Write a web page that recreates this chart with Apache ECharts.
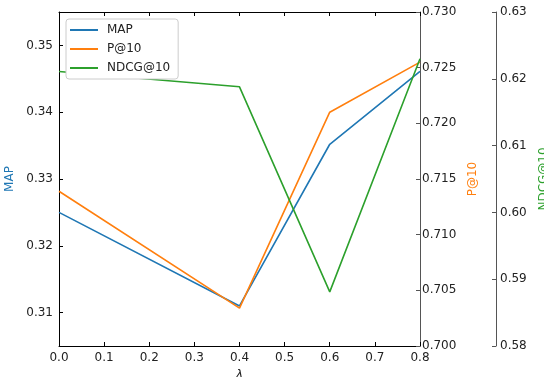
<!DOCTYPE html>
<html><head><meta charset="utf-8">
<script src="https://cdn.jsdelivr.net/npm/echarts@6/dist/echarts.min.js"></script>
<style>html,body{margin:0;padding:0;background:#fff}#c{width:544px;height:377px}</style>
</head><body><div id="c"></div>
<script>
const lambdas = [0.0, 0.4, 0.6, 0.8];
const mapValues = [0.325, 0.311, 0.3352, 0.3461];
const p10Values = [0.7139, 0.7034, 0.7210, 0.7255];
const ndcgValues = [0.6211, 0.6188, 0.5881, 0.6230];
const mapTicks = [0.31, 0.32, 0.33, 0.34, 0.35];
const seriesNames = ['MAP', 'P@10', 'NDCG@10'];
const colors = ['#1f77b4', '#ff7f0e', '#2ca02c'];

const font = 'DejaVu Sans';
const lblStyle = {color: '#222', fontFamily: font, fontSize: 12};
const pairs = v => lambdas.map((x, i) => [x, v[i]]);

const chart = echarts.init(document.getElementById('c'), null, {renderer: 'canvas'});
chart.setOption({
  animation: false,
  color: colors,
  grid: {left: 59, right: 124, top: 12, bottom: 31, containLabel: false, outerBoundsMode: 'none'},
  legend: {
    left: 66, top: 19, orient: 'vertical', itemGap: 7, itemWidth: 28, itemHeight: 12,
    padding: [5, 8, 5, 4], borderColor: '#ccc', borderWidth: 1, borderRadius: 3,
    backgroundColor: '#fff',
    icon: 'path://M0,5 L28,5 L28,7 L0,7 Z',
    textStyle: {fontFamily: font, fontSize: 12, color: '#222', padding: [0, 0, 0, 4]},
    data: seriesNames
  },
  xAxis: [{
    type: 'value', min: 0, max: 0.8, interval: 0.1, position: 'bottom',
    name: 'λ', nameLocation: 'middle', nameGap: 21,
    nameTextStyle: {fontFamily: font, fontSize: 12, fontStyle: 'italic', color: '#222'},
    axisLine: {onZero: false, lineStyle: {color: '#000', width: 1}},
    axisTick: {inside: true, length: 4, lineStyle: {color: '#000'}},
    axisLabel: Object.assign({formatter: v => v.toFixed(1), margin: 6}, lblStyle),
    splitLine: {show: false}
  }, {
    type: 'value', min: 0, max: 0.8, interval: 0.1, position: 'top',
    axisLine: {show: true, onZero: false, lineStyle: {color: '#000', width: 1}},
    axisTick: {inside: true, length: 4, lineStyle: {color: '#000'}},
    axisLabel: {show: false}, splitLine: {show: false}
  }],
  yAxis: [{
    type: 'value', min: 0.305, max: 0.355, position: 'left',
    name: 'MAP', nameLocation: 'middle', nameGap: 36, nameRotate: 90,
    nameTextStyle: {fontFamily: font, fontSize: 12, color: colors[0]},
    axisLine: {show: true, onZero: false, lineStyle: {color: '#000', width: 1}},
    axisTick: {show: true, inside: true, length: 4, customValues: mapTicks, lineStyle: {color: '#000'}},
    axisLabel: Object.assign({customValues: mapTicks, formatter: v => v.toFixed(2), margin: 6}, lblStyle),
    splitLine: {show: false}
  }, {
    type: 'value', min: 0.700, max: 0.730, interval: 0.005, position: 'right', offset: 0,
    name: 'P@10', nameLocation: 'middle', nameGap: 47, nameRotate: 90,
    nameTextStyle: {fontFamily: font, fontSize: 12, color: colors[1]},
    axisLine: {show: true, onZero: false, lineStyle: {color: '#555', width: 1}},
    axisTick: {show: true, inside: true, length: 4, lineStyle: {color: '#555'}},
    axisLabel: Object.assign({formatter: v => v.toFixed(3), margin: 2}, lblStyle),
    splitLine: {show: false}
  }, {
    type: 'value', min: 0.58, max: 0.63, interval: 0.01, position: 'right', offset: 76,
    name: 'NDCG@10', nameLocation: 'middle', nameGap: 38, nameRotate: 90,
    nameTextStyle: {fontFamily: font, fontSize: 12, color: colors[2]},
    axisLine: {show: true, onZero: false, lineStyle: {color: '#555', width: 1}},
    axisTick: {show: true, inside: true, length: 4, lineStyle: {color: '#555'}},
    axisLabel: Object.assign({formatter: v => v.toFixed(2), margin: 4}, lblStyle),
    splitLine: {show: false}
  }],
  series: [
    {name: seriesNames[0], type: 'line', yAxisIndex: 0, data: pairs(mapValues), showSymbol: false, lineStyle: {width: 1.6}},
    {name: seriesNames[1], type: 'line', yAxisIndex: 1, data: pairs(p10Values), showSymbol: false, lineStyle: {width: 1.6}},
    {name: seriesNames[2], type: 'line', yAxisIndex: 2, data: pairs(ndcgValues), showSymbol: false, lineStyle: {width: 1.6}}
  ]
});
</script></body></html>
